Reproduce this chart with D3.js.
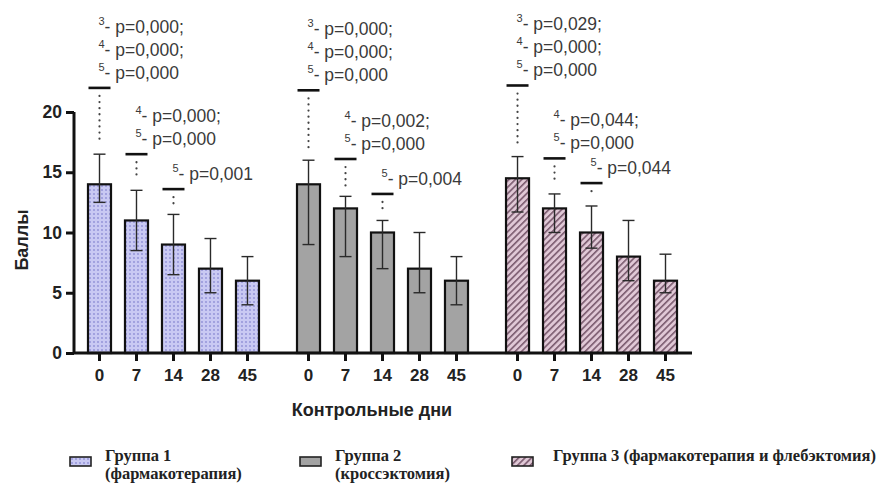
<!DOCTYPE html>
<html>
<head>
<meta charset="utf-8">
<script src="https://cdn.jsdelivr.net/npm/d3@7/dist/d3.min.js"></script>
<style>
  html, body { margin: 0; padding: 0; background: #fff; }
  svg { display: block; }
</style>
</head>
<body>
<svg id="chart" width="886" height="491"></svg>
<script>
// Control days on the x axis (repeated inside every group)
const days = ["0", "7", "14", "28", "45"];
const groupKeys = ["g1", "g2", "g3"];

// Mean score per control day, with the lower / upper ends of each error bar
const means1 = [14, 11, 9, 7, 6];
const low1   = [12.5, 8.5, 6.5, 5, 4];
const high1  = [16.5, 13.5, 11.5, 9.5, 8];

const means2 = [14, 12, 10, 7, 6];
const low2   = [9, 8, 7, 5, 4];
const high2  = [16, 13, 11, 10, 8];

const means3 = [14.5, 12, 10, 8, 6];
const low3   = [11.7, 10, 8.7, 6, 5];
const high3  = [16.3, 13.2, 12.2, 11, 8.2];

const yTicks = [0, 5, 10, 15, 20];

// Significance brackets: day index, bracket level (score units) and p-value lines
const sig1 = [
  { i: 0, level: 22.0, lines: [["3", "- p=0,000;"], ["4", "- p=0,000;"], ["5", "- p=0,000"]] },
  { i: 1, level: 16.5, lines: [["4", "- p=0,000;"], ["5", "- p=0,000"]] },
  { i: 2, level: 13.6, lines: [["5", "- p=0,001"]] }
];
const sig2 = [
  { i: 0, level: 21.8, lines: [["3", "- p=0,000;"], ["4", "- p=0,000;"], ["5", "- p=0,000"]] },
  { i: 1, level: 16.1, lines: [["4", "- p=0,002;"], ["5", "- p=0,000"]] },
  { i: 2, level: 13.2, lines: [["5", "- p=0,004"]] }
];
const sig3 = [
  { i: 0, level: 22.2, lines: [["3", "- p=0,029;"], ["4", "- p=0,000;"], ["5", "- p=0,000"]] },
  { i: 1, level: 16.15, lines: [["4", "- p=0,044;"], ["5", "- p=0,000"]] },
  { i: 2, level: 14.1, lines: [["5", "- p=0,044"]] }
];

const legendLines1 = ["Группа 1", "(фармакотерапия)"];
const legendLines2 = ["Группа 2", "(кроссэктомия)"];
const legendLines3 = ["Группа 3 (фармакотерапия и флебэктомия)"];

const yTitle = "Баллы";
const xTitle = "Контрольные дни";

const groups = [
  { key: "g1", means: means1, low: low1, high: high1, sig: sig1, fill: "url(#dots)",  legend: legendLines1 },
  { key: "g2", means: means2, low: low2, high: high2, sig: sig2, fill: "#a3a3a3",     legend: legendLines2 },
  { key: "g3", means: means3, low: low3, high: high3, sig: sig3, fill: "url(#hatch)", legend: legendLines3 }
];

const svg = d3.select("#chart");
const sans = "Arial, 'Liberation Sans', sans-serif";

// ---- fill patterns ----
const defs = svg.append("defs");
const dots = defs.append("pattern").attr("id", "dots")
  .attr("patternUnits", "userSpaceOnUse").attr("width", 4).attr("height", 4);
dots.append("rect").attr("width", 4).attr("height", 4).attr("fill", "#c9c9f3");
dots.append("circle").attr("cx", 2).attr("cy", 2).attr("r", 0.9).attr("fill", "#8f8fd6");

const hatch = defs.append("pattern").attr("id", "hatch")
  .attr("patternUnits", "userSpaceOnUse").attr("width", 4.5).attr("height", 4.5)
  .attr("patternTransform", "rotate(45)");
hatch.append("rect").attr("width", 4.5).attr("height", 4.5).attr("fill", "#e0c8d6");
hatch.append("rect").attr("x", 0).attr("width", 1.6).attr("height", 4.5).attr("fill", "#7a5a6e");

// ---- scales ----
const y = d3.scaleLinear().domain([0, 20]).range([353, 112]);

const xGroup = d3.scaleBand().domain(groupKeys).range([81, 684]).paddingInner(0.115);
const xDay = d3.scaleBand().domain(days).range([0, xGroup.bandwidth()])
  .paddingInner(0.378).paddingOuter(0.189);

const cx = (g, i) => xGroup(g) + xDay(days[i]) + xDay.bandwidth() / 2;

const axisColor = "#111";

// ---- bars, error bars ----
groups.forEach(g => {
  const gSel = svg.append("g");
  const rows = days.map((d, i) => ({ d, i, m: g.means[i], lo: g.low[i], hi: g.high[i] }));

  gSel.selectAll("rect.bar").data(rows).join("rect")
    .attr("class", "bar")
    .attr("x", r => xGroup(g.key) + xDay(r.d))
    .attr("y", r => y(r.m))
    .attr("width", xDay.bandwidth())
    .attr("height", r => y(0) - y(r.m))
    .attr("fill", g.fill)
    .attr("stroke", "#111")
    .attr("stroke-width", 2.2);

  const eb = gSel.selectAll("g.err").data(rows).join("g").attr("class", "err")
    .attr("stroke", "#2a2a2a").attr("stroke-width", 1.4);
  eb.append("line")
    .attr("x1", r => cx(g.key, r.i)).attr("x2", r => cx(g.key, r.i))
    .attr("y1", r => y(r.lo)).attr("y2", r => y(r.hi));
  eb.append("line")
    .attr("x1", r => cx(g.key, r.i) - 6).attr("x2", r => cx(g.key, r.i) + 6)
    .attr("y1", r => y(r.hi)).attr("y2", r => y(r.hi));
  eb.append("line")
    .attr("x1", r => cx(g.key, r.i) - 6).attr("x2", r => cx(g.key, r.i) + 6)
    .attr("y1", r => y(r.lo)).attr("y2", r => y(r.lo));

  // ---- significance brackets ----
  g.sig.forEach(s => {
    const x0 = cx(g.key, s.i);
    const ly = y(s.level);
    const top = y(g.high[s.i]);
    svg.append("line")
      .attr("x1", x0 - 11).attr("x2", x0 + 11)
      .attr("y1", ly).attr("y2", ly)
      .attr("stroke", "#111").attr("stroke-width", 2.6);
    svg.append("line")
      .attr("x1", x0).attr("x2", x0)
      .attr("y1", ly + 8).attr("y2", top - 10)
      .attr("stroke", "#444").attr("stroke-width", 2.2)
      .attr("stroke-linecap", "round")
      .attr("stroke-dasharray", "0.1,6");
    const n = s.lines.length;
    s.lines.forEach((ln, k) => {
      const base = ly - 9 - (n - 1 - k) * 23;
      const t = svg.append("text")
        .attr("x", x0 - 1).attr("y", base)
        .attr("font-family", sans)
        .attr("fill", "#3a3a3a");
      t.append("tspan").attr("font-size", 11).attr("dy", -8).text(ln[0]);
      t.append("tspan").attr("font-size", 17.5).attr("dy", 8).text(ln[1]);
    });
  });
});

// ---- axes ----
const yAxis = d3.axisLeft(y).tickValues(yTicks).tickSize(8).tickPadding(4).tickFormat(d3.format("d"));
const yG = svg.append("g").attr("transform", "translate(74,0)").call(yAxis);
yG.select(".domain").attr("stroke", axisColor).attr("stroke-width", 3)
  .attr("d", `M0,${y(20)}V${y(0)}`);
yG.selectAll(".tick line").attr("stroke", axisColor).attr("stroke-width", 3);
yG.selectAll(".tick text")
  .attr("font-family", sans)
  .attr("font-weight", "bold").attr("font-size", 17.5).attr("fill", "#222");

// x axis baseline with a tick under every bar
svg.append("line")
  .attr("x1", 73).attr("x2", 692)
  .attr("y1", y(0)).attr("y2", y(0))
  .attr("stroke", axisColor).attr("stroke-width", 3);

groups.forEach(g => {
  const xa = d3.axisBottom(xDay).tickSize(8).tickPadding(8);
  const xg = svg.append("g").attr("transform", `translate(${xGroup(g.key)},${y(0)})`).call(xa);
  xg.select(".domain").remove();
  xg.selectAll(".tick line").attr("stroke", axisColor).attr("stroke-width", 3);
  xg.selectAll(".tick text")
    .attr("font-family", sans)
    .attr("font-weight", "bold").attr("font-size", 17).attr("fill", "#222");
});

// ---- axis titles ----
svg.append("text")
  .attr("transform", "translate(28,240) rotate(-90)")
  .attr("text-anchor", "middle")
  .attr("font-family", sans)
  .attr("font-weight", "bold").attr("font-size", 18).attr("fill", "#222")
  .text(yTitle);

svg.append("text")
  .attr("x", 372).attr("y", 416)
  .attr("text-anchor", "middle")
  .attr("font-family", sans)
  .attr("font-weight", "bold").attr("font-size", 18).attr("fill", "#222")
  .text(xTitle);

// ---- legend ----
const legendX = [70, 300, 512];
groups.forEach((g, k) => {
  const lg = svg.append("g").attr("transform", `translate(${legendX[k]},457)`);
  lg.append("rect").attr("x", 0).attr("y", 0).attr("width", 21).attr("height", 9)
    .attr("fill", g.fill).attr("stroke", "#222").attr("stroke-width", 1.6);
  g.legend.forEach((txt, j) => {
    lg.append("text")
      .attr("x", k === 2 ? 41 : 35).attr("y", 4 + j * 18)
      .attr("font-family", "'Liberation Serif', 'Times New Roman', serif")
      .attr("font-weight", "bold").attr("font-size", 16.5).attr("fill", "#222")
      .text(txt);
  });
});
</script>
</body>
</html>
